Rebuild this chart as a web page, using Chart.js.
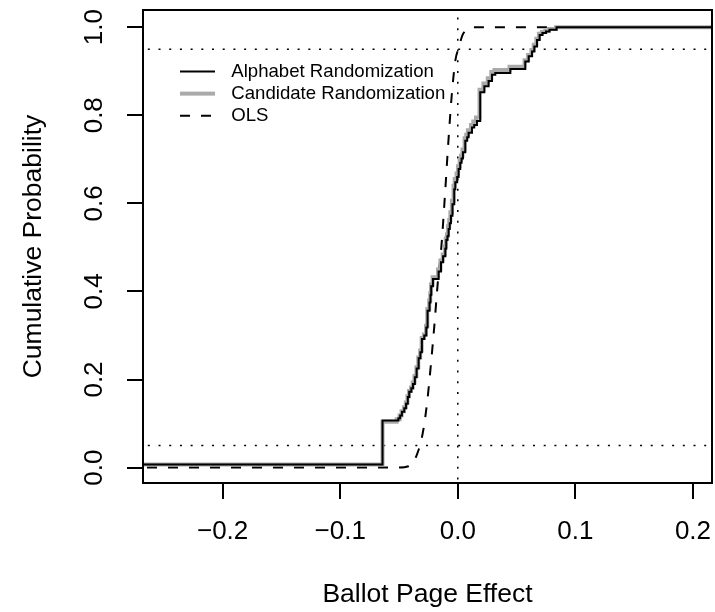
<!DOCTYPE html>
<html>
<head>
<meta charset="utf-8">
<title>Ballot Page Effect</title>
<script src="https://cdn.jsdelivr.net/npm/chart.js@4.4.1/dist/chart.umd.min.js"></script>
<style>
  body { margin: 0; background: #fff; }
  #wrap { width: 715px; height: 612px; }
</style>
</head>
<body>
<div id="wrap"><canvas id="graficoEcdf" width="715" height="612"></canvas></div>
<script>
// values (ECDF knots: effect, cumulative probability)
const alphabetX = [-0.30, -0.0640, -0.0505, -0.0490, -0.0475, -0.0455, -0.0440, -0.0425, -0.0413, -0.0395,
  -0.0381, -0.0365, -0.0350, -0.0333, -0.0318, -0.0305, -0.0285, -0.0268, -0.0257, -0.0240,
  -0.0232, -0.0226, -0.0211, -0.0163, -0.0143, -0.0125, -0.0106, -0.0098, -0.0088, -0.0078,
  -0.0068, -0.0058, -0.0045, -0.0030, -0.0021, -0.0005, 0.0007, 0.0021, 0.0032, 0.0044,
  0.0064, 0.0080, 0.0092, 0.0121, 0.0140, 0.0163, 0.0191, 0.0226, 0.0262, 0.0291,
  0.0319, 0.0447, 0.0574, 0.0603, 0.0631, 0.0651, 0.0674, 0.0696, 0.0720, 0.0750,
  0.0780, 0.0840, 0.30];
const alphabetY = [0.007, 0.107, 0.112, 0.118, 0.127, 0.135, 0.145, 0.160, 0.172, 0.180,
  0.190, 0.205, 0.225, 0.248, 0.262, 0.292, 0.300, 0.318, 0.356, 0.375,
  0.392, 0.412, 0.428, 0.445, 0.466, 0.480, 0.497, 0.517, 0.525, 0.542,
  0.555, 0.572, 0.598, 0.632, 0.648, 0.660, 0.678, 0.692, 0.702, 0.716,
  0.742, 0.750, 0.760, 0.772, 0.778, 0.787, 0.852, 0.866, 0.878, 0.892,
  0.896, 0.905, 0.922, 0.934, 0.945, 0.956, 0.971, 0.982, 0.987, 0.990,
  0.994, 1.000, 1.000];

const candidateX = [-0.30, -0.0640, -0.0520, -0.0495, -0.0478, -0.0458, -0.0442, -0.0428, -0.0415, -0.0398,
  -0.0383, -0.0368, -0.0352, -0.0336, -0.0320, -0.0307, -0.0288, -0.0270, -0.0259, -0.0243,
  -0.0234, -0.0228, -0.0214, -0.0168, -0.0147, -0.0128, -0.0110, -0.0102, -0.0092, -0.0083,
  -0.0073, -0.0063, -0.0050, -0.0036, -0.0026, -0.0010, 0.0002, 0.0016, 0.0028, 0.0040,
  0.0058, 0.0072, 0.0086, 0.0112, 0.0132, 0.0155, 0.0185, 0.0218, 0.0255, 0.0285,
  0.0312, 0.0440, 0.0568, 0.0598, 0.0626, 0.0646, 0.0668, 0.0690, 0.0715, 0.0745,
  0.0775, 0.0835, 0.30];
const candidateY = [0.007, 0.104, 0.110, 0.118, 0.128, 0.137, 0.148, 0.162, 0.174, 0.182,
  0.193, 0.208, 0.228, 0.250, 0.266, 0.294, 0.302, 0.322, 0.360, 0.380,
  0.396, 0.416, 0.432, 0.450, 0.470, 0.484, 0.502, 0.520, 0.530, 0.548,
  0.562, 0.580, 0.606, 0.640, 0.655, 0.668, 0.684, 0.698, 0.708, 0.722,
  0.748, 0.756, 0.766, 0.778, 0.786, 0.795, 0.858, 0.872, 0.884, 0.898,
  0.903, 0.910, 0.925, 0.937, 0.948, 0.960, 0.974, 0.985, 0.989, 0.992,
  0.996, 1.000, 1.000];

const olsX = [-0.30, -0.050, -0.042, -0.038, -0.035, -0.032, -0.029, -0.026, -0.023, -0.020,
  -0.017, -0.014, -0.011, -0.008, -0.005, -0.002, 0.001, 0.004, 0.008, 0.012, 0.30];
const olsY = [0.000, 0.000, 0.003, 0.012, 0.028, 0.052, 0.090, 0.150, 0.230, 0.320,
  0.420, 0.500, 0.615, 0.740, 0.850, 0.925, 0.955, 0.982, 0.995, 1.000, 1.000];

const refProbs = [0.05, 0.95];
const refEffect = [0];

const xTicks = [-0.2, -0.1, 0.0, 0.1, 0.2];
const yTicks = [0.0, 0.2, 0.4, 0.6, 0.8, 1.0];

const fuente = "'Liberation Sans', Arial, Helvetica, sans-serif";

const toPoints = (xs, ys) => xs.map((x, i) => ({ x: x, y: ys[i] }));

const dotted = {
  borderColor: "#000",
  borderWidth: 1.5,
  borderDash: [2, 8.7],
  pointRadius: 0,
  fill: false,
};

// legend sample: 35px line inside a 42px box so the text sits where R puts it
const muestra = (ds) => {
  const c = document.createElement("canvas");
  c.width = 42;
  c.height = 8;
  const g = c.getContext("2d");
  g.strokeStyle = ds.borderColor;
  g.lineWidth = ds.borderWidth;
  g.setLineDash(ds.borderDash || []);
  g.beginPath();
  g.moveTo(0, 4);
  g.lineTo(35, 4);
  g.stroke();
  return c;
};

const sinPadding = (axis) => {
  axis.paddingLeft = 0;
  axis.paddingRight = 0;
  axis.paddingTop = 0;
  axis.paddingBottom = 0;
};

// plot box + moves the legend inside the plot region
const marco = {
  id: "marco",
  afterLayout(chart) {
    const ca = chart.chartArea;
    const lg = chart.legend;
    lg.left = ca.left + 33.5;
    lg.top = ca.top + 48.7;
  },
  afterDatasetsDraw(chart) {
    const { ctx, chartArea: ca } = chart;
    ctx.save();
    ctx.strokeStyle = "#000";
    ctx.lineWidth = 2;
    ctx.strokeRect(ca.left, ca.top, ca.right - ca.left, ca.bottom - ca.top);
    ctx.restore();
  },
};

const dibujarGrafico = () => {
  const ctx = document.getElementById("graficoEcdf").getContext("2d");

  const refLines = [
    ...refProbs.map((p) => ({ ...dotted, label: "ref", data: [{ x: -0.3, y: p }, { x: 0.3, y: p }] })),
    ...refEffect.map((e) => ({ ...dotted, label: "ref", data: [{ x: e, y: -0.1 }, { x: e, y: 1.1 }] })),
  ];

  new Chart(ctx, {
    type: "line",
    data: {
      datasets: [
        {
          label: "Alphabet Randomization",
          data: toPoints(alphabetX, alphabetY),
          borderColor: "#000",
          borderWidth: 2,
          stepped: "before",
          pointRadius: 0,
          fill: false,
        },
        {
          label: "Candidate Randomization",
          data: toPoints(candidateX, candidateY),
          borderColor: "#aaaaaa",
          borderWidth: 4,
          stepped: "before",
          pointRadius: 0,
          fill: false,
        },
        {
          label: "OLS",
          data: toPoints(olsX, olsY),
          borderColor: "#000",
          borderWidth: 2,
          borderDash: [10, 11],
          cubicInterpolationMode: "monotone",
          pointRadius: 0,
          fill: false,
        },
        ...refLines,
      ],
    },
    options: {
      responsive: false,
      animation: false,
      devicePixelRatio: 1,
      layout: { padding: { top: 10, right: 3, left: 0, bottom: 0 } },
      plugins: {
        tooltip: { enabled: false },
        legend: {
          position: "chartArea",
          align: "start",
          labels: {
            filter: (item) => item.datasetIndex < 3,
            generateLabels: (chart) =>
              Chart.defaults.plugins.legend.labels.generateLabels(chart).map((item) => ({
                ...item,
                pointStyle: muestra(chart.data.datasets[item.datasetIndex]),
              })),
            usePointStyle: true,
            pointStyleWidth: 42,
            padding: 3.5,
            color: "#000",
            font: { family: fuente, size: 18.6 },
          },
        },
      },
      scales: {
        x: {
          type: "linear",
          min: -0.2677,
          max: 0.2162,
          afterBuildTicks: (axis) => { axis.ticks = xTicks.map((v) => ({ value: v })); },
          afterFit: (axis) => { axis.height = 129; sinPadding(axis); },
          border: { display: false },
          grid: { drawOnChartArea: false, drawTicks: true, tickLength: 16, color: "#000", lineWidth: 2 },
          ticks: {
            autoSkip: false,
            maxRotation: 0,
            padding: 17,
            color: "#000",
            font: { family: fuente, size: 26 },
            callback: (v) => Number(v).toFixed(1).replace("-", "\u2212"),
          },
          title: {
            display: true,
            text: "Ballot Page Effect",
            color: "#000",
            font: { family: fuente, size: 26.5 },
            padding: { top: 0, bottom: 1 },
          },
        },
        y: {
          type: "linear",
          min: -0.035,
          max: 1.039,
          afterBuildTicks: (axis) => { axis.ticks = yTicks.map((v) => ({ value: v })); },
          afterFit: (axis) => { axis.width = 143; sinPadding(axis); },
          border: { display: false },
          grid: { drawOnChartArea: false, drawTicks: true, tickLength: 16, color: "#000", lineWidth: 2 },
          ticks: {
            autoSkip: false,
            minRotation: 90,
            maxRotation: 90,
            crossAlign: "center",
            padding: 14,
            color: "#000",
            font: { family: fuente, size: 26 },
            callback: (v) => Number(v).toFixed(1),
          },
          title: {
            display: true,
            text: "Cumulative Probability",
            color: "#000",
            font: { family: fuente, size: 26.5 },
            padding: { top: 18, bottom: 0 },
          },
        },
      },
    },
    plugins: [marco],
  });
};

dibujarGrafico();
</script>
</body>
</html>
